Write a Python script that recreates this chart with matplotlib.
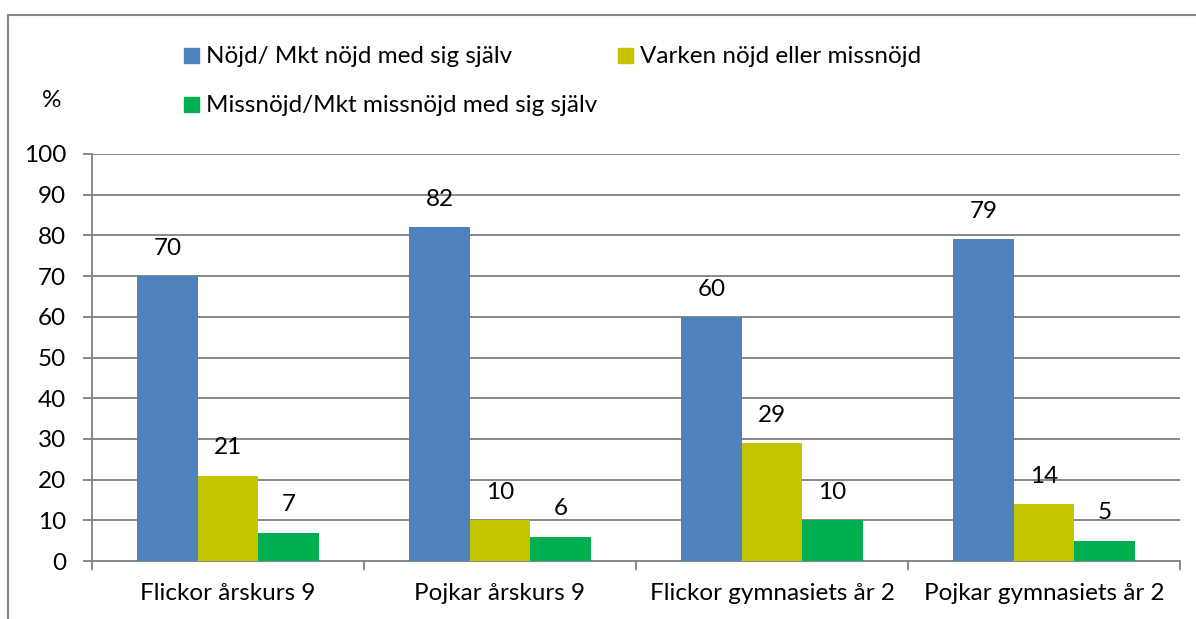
import numpy as np
import matplotlib.pyplot as plt
from matplotlib.patches import Rectangle

# --- données ---
categories = ["Flickor årskurs 9", "Pojkar årskurs 9",
              "Flickor gymnasiets år 2", "Pojkar gymnasiets år 2"]
series_names = ["Nöjd/ Mkt nöjd med sig själv",
                "Varken nöjd eller missnöjd",
                "Missnöjd/Mkt missnöjd med sig själv"]
nojd = [70, 82, 60, 79]
varken = [21, 10, 29, 14]
missnojd = [7, 6, 10, 5]
y_ticks = list(range(0, 101, 10))

colors = ["#4F81BD", "#C4C400", "#00B050"]
grid_col = "#888888"

plt.rcParams['font.family'] = ['Lato', 'DejaVu Sans']
fs = 17.5

W, H = 1196, 619
fig = plt.figure(figsize=(W / 100, H / 100), dpi=100)
# zone du graphique en pixels : x 92..1180, y 154..561
ax = fig.add_axes([92 / W, 1 - 561 / H, (1180 - 92) / W, (561 - 154) / H])

# cadre gris autour du graphique (bords droit/bas hors image)
fig.patches.append(Rectangle((8 / W, -0.05), 1.2, 1 - 15 / H + 0.05,
                             transform=fig.transFigure, fill=False,
                             edgecolor=grid_col, lw=1.5))

x = np.arange(len(categories))
w = 0.222
for i, vals in enumerate([nojd, varken, missnojd]):
    pos = x + (i - 1) * w
    ax.bar(pos, vals, width=w, color=colors[i], zorder=3)
    for px, v in zip(pos, vals):
        ax.annotate(str(v), (px, v), xytext=(0, 20), textcoords="offset points",
                    ha="center", va="center", fontsize=fs, zorder=4)

ax.set_xlim(-0.5, len(categories) - 0.5)
ax.set_ylim(0, 100)
ax.set_yticks(y_ticks)
ax.yaxis.grid(True, color=grid_col, lw=1.4, zorder=0)
ax.set_xticks(x)
ax.set_xticklabels(categories, fontsize=fs)
ax.set_xticks(np.arange(len(categories) + 1) - 0.5, minor=True)
ax.tick_params(axis="x", which="major", length=0, pad=16)
ax.tick_params(axis="x", which="minor", length=6.5, color=grid_col, width=1.4)
ax.tick_params(axis="y", length=6.5, color=grid_col, width=1.4, pad=12, labelsize=fs)

for s in ["top", "right"]:
    ax.spines[s].set_visible(False)
for s in ["left", "bottom"]:
    ax.spines[s].set_color(grid_col)
    ax.spines[s].set_linewidth(1.4)

fig.text(51.5 / W, 1 - 107 / H, "%", fontsize=fs, ha="center", va="baseline")

# légende façon Excel : carré + texte, placés en pixels
legend_pos = [(184, 63), (618, 63), (184, 112)]  # (x carré, ligne de base)
for name, col, (lx, ly) in zip(series_names, colors, legend_pos):
    fig.patches.append(Rectangle((lx / W, 1 - ly / H), 15 / W, 15 / H,
                                 transform=fig.transFigure, color=col))
    fig.text((lx + 22) / W, 1 - ly / H, name, fontsize=fs,
             ha="left", va="baseline")

fig.savefig("out.png", dpi=100)
